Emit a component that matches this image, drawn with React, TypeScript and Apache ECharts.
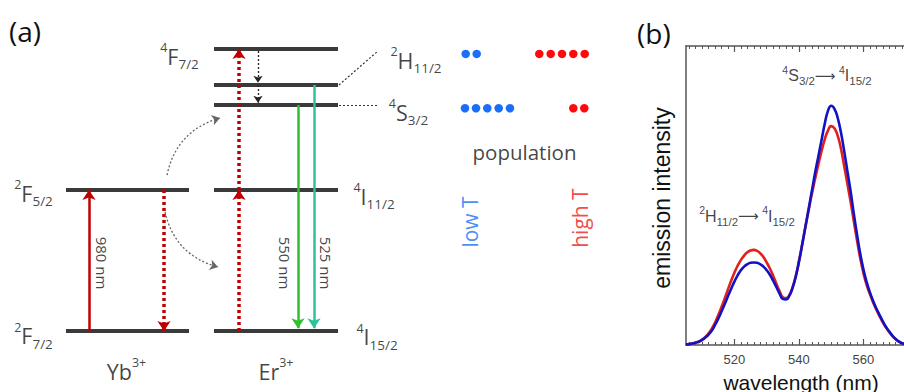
import React, { useEffect, useRef } from "react";
import * as echarts from "echarts";

// ---------- panel (b) data ----------
const wavelengths = [
  505, 506, 507, 508, 509, 510, 511, 512, 513, 514, 515, 516, 517, 518, 519, 520,
  521, 522, 523, 524, 525, 526, 527, 528, 529, 530, 531, 532, 533, 534, 535, 536,
  537, 538, 539, 540, 541, 542, 543, 544, 545, 546, 547, 548, 549, 550, 551, 552,
  553, 554, 555, 556, 557, 558, 559, 560, 561, 562, 563, 564, 565, 566, 567, 568,
  569, 570, 571, 572, 573, 574, 575,
];
const lowT = [
  0.002, 0.003, 0.005, 0.008, 0.011, 0.017, 0.025, 0.035, 0.048, 0.067, 0.088, 0.112, 0.137, 0.163, 0.188, 0.212,
  0.233, 0.25, 0.262, 0.27, 0.275, 0.276, 0.275, 0.27, 0.262, 0.25, 0.235, 0.215, 0.194, 0.172, 0.154, 0.152,
  0.164, 0.19, 0.228, 0.278, 0.335, 0.395, 0.455, 0.515, 0.575, 0.63, 0.685, 0.74, 0.783, 0.8, 0.79, 0.76,
  0.712, 0.65, 0.583, 0.515, 0.44, 0.37, 0.305, 0.252, 0.21, 0.176, 0.147, 0.122, 0.1, 0.079, 0.06, 0.045,
  0.031, 0.02, 0.011, 0.006, 0.003, 0.002, 0.001,
];
const highT = [
  0.002, 0.003, 0.005, 0.008, 0.012, 0.018, 0.027, 0.039, 0.055, 0.075, 0.1, 0.127, 0.156, 0.186, 0.215, 0.242,
  0.265, 0.284, 0.299, 0.31, 0.316, 0.318, 0.315, 0.307, 0.294, 0.276, 0.256, 0.232, 0.205, 0.18, 0.16, 0.157,
  0.166, 0.192, 0.23, 0.28, 0.336, 0.395, 0.45, 0.505, 0.555, 0.603, 0.648, 0.688, 0.717, 0.732, 0.725, 0.7,
  0.658, 0.6, 0.54, 0.48, 0.415, 0.35, 0.29, 0.24, 0.2, 0.17, 0.142, 0.118, 0.096, 0.076, 0.058, 0.043,
  0.03, 0.019, 0.011, 0.006, 0.003, 0.002, 0.001,
];
const majorTicks = [520, 540, 560, 580];
const tickLabels = [520, 540, 560];
const minorTicks = [
  506, 508, 510, 512, 514, 516, 518, 522, 524, 526, 528, 530, 532, 534, 536, 538,
  542, 544, 546, 548, 550, 552, 554, 556, 558, 562, 564, 566, 568, 570, 572, 574, 576, 578,
];

// ---------- panel (a) data (schematic energies) ----------
const ybLevels = [0, 1.0];
const erLevels = [0, 1.0, 1.603, 1.745, 2.0];
const blueDotsRow1 = [465.7, 476.7];
const redDotsRow1 = [539.3, 550.7, 562, 573.3, 584.7];
const blueDotsRow2 = [465, 476, 487.3, 498.7, 510];
const redDotsRow2 = [573.3, 584.3];

const FA = "'Open Sans', 'Noto Sans', sans-serif";
const FB = "'Liberation Sans', Arial, sans-serif";
const TXT = "#111";
const DARKRED = "#c00000";

const YB_X: [number, number] = [66, 189];
const ER_X: [number, number] = [214, 338];

const richA = {
  b: { fontSize: 21.5, fontFamily: FA, color: TXT, lineHeight: 30 },
  sup: { fontSize: 12.5, fontFamily: FA, color: TXT, lineHeight: 13, verticalAlign: "top" },
  sub: { fontSize: 13.5, fontFamily: FA, color: TXT, lineHeight: 14, verticalAlign: "bottom" },
};
const richB = {
  b: { fontSize: 16, fontFamily: FB, color: TXT, lineHeight: 23 },
  sup: { fontSize: 10.5, fontFamily: FB, color: TXT, lineHeight: 10, verticalAlign: "top" },
  sub: { fontSize: 11.5, fontFamily: FB, color: TXT, lineHeight: 11, verticalAlign: "bottom" },
  arr: { fontSize: 14.5, fontFamily: "DejaVu Sans", color: TXT, lineHeight: 23 },
};

function lbl(x: number, y: number, text: string, extra: any = {}) {
  return {
    value: [x, y],
    label: { show: true, position: "inside", formatter: text, ...extra },
  };
}

export default function App() {
  const ref = useRef<HTMLDivElement>(null);
  useEffect(() => {
    if (!ref.current) return;
    const chart = echarts.init(ref.current, undefined, { renderer: "svg" });

    const axisGray = "#555";
    const xCommon = {
      type: "value",
      gridIndex: 0,
      min: 505,
      max: 580,
      splitLine: { show: false },
    };

    const option: any = {
      animation: false,
      backgroundColor: "#fff",
      grid: [
        { left: 686, top: 46, height: 299, width: 242, containLabel: false, outerBoundsMode: "none" },
        { left: 0, top: -7.4, width: 630, height: 394.8, containLabel: false, outerBoundsMode: "none" },
      ],
      xAxis: [
        {
          ...xCommon,
          position: "bottom",
          axisLine: { show: true, lineStyle: { color: axisGray, width: 1.5 } },
          axisTick: { show: true, inside: true, length: 6, customValues: majorTicks, lineStyle: { color: axisGray, width: 1.2 } },
          axisLabel: { show: true, customValues: tickLabels, margin: 8, fontSize: 13, fontFamily: FB, color: "#444" },
        },
        {
          ...xCommon,
          position: "bottom",
          axisLine: { show: false },
          axisTick: { show: true, inside: true, length: 3, customValues: minorTicks, lineStyle: { color: axisGray, width: 1 } },
          axisLabel: { show: false },
        },
        {
          ...xCommon,
          position: "top",
          axisLine: { show: true, lineStyle: { color: axisGray, width: 1.5 } },
          axisTick: { show: true, inside: true, length: 6, customValues: majorTicks, lineStyle: { color: axisGray, width: 1.2 } },
          axisLabel: { show: false },
        },
        {
          ...xCommon,
          position: "top",
          axisLine: { show: false },
          axisTick: { show: true, inside: true, length: 3, customValues: minorTicks, lineStyle: { color: axisGray, width: 1 } },
          axisLabel: { show: false },
        },
        {
          type: "value",
          gridIndex: 1,
          min: 0,
          max: 630,
          show: false,
        },
      ],
      yAxis: [
        {
          type: "value",
          gridIndex: 0,
          min: 0,
          max: 1,
          axisLine: { show: true, lineStyle: { color: axisGray, width: 1.5 } },
          axisTick: { show: false },
          axisLabel: { show: false },
          splitLine: { show: false },
        },
        {
          type: "value",
          gridIndex: 1,
          min: -0.4,
          max: 2.4,
          show: false,
        },
      ],
      graphic: [
        { type: "text", x: 9, y: 31, style: { text: "(a)", font: `28px ${FA}`, fill: TXT, verticalAlign: "middle" } },
        { type: "text", x: 637, y: 33, style: { text: "(b)", font: `28px ${FA}`, fill: TXT, verticalAlign: "middle" } },
        {
          type: "text",
          x: 662,
          y: 198,
          rotation: Math.PI / 2,
          style: { text: "emission intensity", font: `23px ${FB}`, fill: TXT, align: "center", verticalAlign: "middle" },
        },
        {
          type: "text",
          x: 801,
          y: 382,
          style: { text: "wavelength (nm)", font: `21px ${FB}`, fill: TXT, align: "center", verticalAlign: "middle" },
        },
      ],
      series: [
        // ---- panel (b) spectra ----
        {
          name: "high T",
          type: "line",
          xAxisIndex: 0,
          yAxisIndex: 0,
          data: wavelengths.map((w, i) => [w, highT[i]]),
          smooth: true,
          showSymbol: false,
          symbol: "none",
          lineStyle: { color: "#e0201c", width: 2.6 },
          z: 3,
        },
        {
          name: "low T",
          type: "line",
          xAxisIndex: 0,
          yAxisIndex: 0,
          data: wavelengths.map((w, i) => [w, lowT[i]]),
          smooth: true,
          showSymbol: false,
          symbol: "none",
          lineStyle: { color: "#1212c4", width: 2.6 },
          z: 4,
        },
        {
          type: "scatter",
          xAxisIndex: 0,
          yAxisIndex: 0,
          symbolSize: 0,
          clip: false,
          label: { rich: richB },
          data: [
            lbl(548.7, 0.901, "{sup|4}{b|S}{sub|3/2}{arr|⟶} {sup|4}{b|I}{sub|15/2}"),
            lbl(523.9, 0.431, "{sup|2}{b|H}{sub|11/2}{arr|⟶} {sup|4}{b|I}{sub|15/2}"),
          ],
          z: 5,
        },
        // ---- panel (a) energy levels ----
        {
          type: "lines",
          coordinateSystem: "cartesian2d",
          xAxisIndex: 4,
          yAxisIndex: 1,
          symbol: "none",
          lineStyle: { color: "#3a3a3a", width: 4, opacity: 1 },
          data: [
            ...ybLevels.map((e) => ({ coords: [[YB_X[0], e], [YB_X[1], e]] })),
            ...erLevels.map((e) => ({ coords: [[ER_X[0], e], [ER_X[1], e]] })),
          ],
          z: 2,
        },
        // connectors
        {
          type: "lines",
          coordinateSystem: "cartesian2d",
          xAxisIndex: 4,
          yAxisIndex: 1,
          symbol: "none",
          lineStyle: { color: "#333", width: 1.2, type: [2, 2], opacity: 1 },
          data: [
            { coords: [[339, 1.745], [377, 1.98]] },
            { coords: [[339, 1.603], [377, 1.603]] },
          ],
          z: 2,
        },
        // 980 nm pump
        {
          type: "lines",
          coordinateSystem: "cartesian2d",
          xAxisIndex: 4,
          yAxisIndex: 1,
          symbol: ["none", "arrow"],
          symbolSize: 10,
          lineStyle: { color: DARKRED, width: 2.5, opacity: 1 },
          data: [{ coords: [[89, 0], [89, 1.0]] }],
          z: 3,
        },
        // dotted red transfer arrows
        {
          type: "lines",
          coordinateSystem: "cartesian2d",
          xAxisIndex: 4,
          yAxisIndex: 1,
          symbol: ["none", "arrow"],
          symbolSize: 10,
          lineStyle: { color: DARKRED, width: 3.5, type: [3, 3], opacity: 1 },
          data: [
            { coords: [[164, 1.0], [164, 0]] },
            { coords: [[239, 0], [239, 1.0]] },
            { coords: [[239, 1.0], [239, 2.0]] },
          ],
          z: 3,
        },
        // non-radiative relaxation
        {
          type: "lines",
          coordinateSystem: "cartesian2d",
          xAxisIndex: 4,
          yAxisIndex: 1,
          symbol: ["none", "arrow"],
          symbolSize: 7,
          lineStyle: { color: "#222", width: 1.3, type: [2, 2], opacity: 1 },
          data: [
            { coords: [[258, 1.985], [258, 1.76]] },
            { coords: [[258, 1.745], [258, 1.618]] },
          ],
          z: 3,
        },
        // green emissions
        {
          type: "lines",
          coordinateSystem: "cartesian2d",
          xAxisIndex: 4,
          yAxisIndex: 1,
          symbol: ["none", "arrow"],
          symbolSize: 10,
          lineStyle: { width: 2.5, opacity: 1 },
          data: [
            { coords: [[298, 1.603], [298, 0.02]], lineStyle: { color: "#2fbf2f" } },
            { coords: [[314, 1.745], [314, 0.02]], lineStyle: { color: "#2cc39c" } },
          ],
          z: 3,
        },
        // energy transfer curved arrows
        {
          type: "lines",
          coordinateSystem: "cartesian2d",
          xAxisIndex: 4,
          yAxisIndex: 1,
          symbol: ["none", "arrow"],
          symbolSize: 8,
          lineStyle: { color: "#666", width: 1.3, type: [2, 2], opacity: 1 },
          data: [
            { coords: [[167, 1.106], [220, 1.511]], lineStyle: { curveness: 0.3 } },
            { coords: [[165, 0.844], [218, 0.454]], lineStyle: { curveness: -0.3 } },
          ],
          z: 3,
        },
        // population dots
        {
          type: "scatter",
          xAxisIndex: 4,
          yAxisIndex: 1,
          symbol: "circle",
          symbolSize: 8.5,
          itemStyle: { color: "#1a6ef7", opacity: 1 },
          data: [
            ...blueDotsRow1.map((x) => [x, 1.965]),
            ...blueDotsRow2.map((x) => [x, 1.58]),
          ],
          z: 3,
        },
        {
          type: "scatter",
          xAxisIndex: 4,
          yAxisIndex: 1,
          symbol: "circle",
          symbolSize: 8.5,
          itemStyle: { color: "#ff0a0a", opacity: 1 },
          data: [
            ...redDotsRow1.map((x) => [x, 1.965]),
            ...redDotsRow2.map((x) => [x, 1.58]),
          ],
          z: 3,
        },
        // texts of panel (a)
        {
          type: "scatter",
          xAxisIndex: 4,
          yAxisIndex: 1,
          symbolSize: 0,
          clip: false,
          label: { rich: richA },
          data: [
            lbl(179.5, 1.95, "{sup|4}{b|F}{sub|7/2}"),
            lbl(416, 1.92, "{sup|2}{b|H}{sub|11/2}"),
            lbl(408.5, 1.55, "{sup|4}{b|S}{sub|3/2}"),
            lbl(33.5, 0.976, "{sup|2}{b|F}{sub|5/2}"),
            lbl(374, 0.955, "{sup|4}{b|I}{sub|11/2}"),
            lbl(33.5, -0.035, "{sup|2}{b|F}{sub|7/2}"),
            lbl(377, -0.042, "{sup|4}{b|I}{sub|15/2}"),
            lbl(126.5, -0.284, "{b|Yb}{sup|3+}"),
            lbl(276, -0.284, "{b|Er}{sup|3+}"),
            lbl(102, 0.482, "980 nm", { rotate: -90, fontSize: 15, fontFamily: FA, color: TXT }),
            lbl(285, 0.482, "550 nm", { rotate: -90, fontSize: 15, fontFamily: FA, color: TXT }),
            lbl(326, 0.482, "525 nm", { rotate: -90, fontSize: 15, fontFamily: FA, color: TXT }),
            lbl(524.5, 1.27, "population", { fontSize: 20.5, fontFamily: FA, color: TXT }),
            lbl(470, 0.773, "low T", { rotate: 90, fontSize: 21, fontFamily: FA, color: "#1a6ef7" }),
            lbl(580, 0.801, "high T", { rotate: 90, fontSize: 21, fontFamily: FA, color: "#f01818" }),
          ],
          z: 6,
        },
      ],
    };

    chart.setOption(option);
    return () => chart.dispose();
  }, []);

  return (
    <div
      ref={ref}
      style={{ position: "absolute", left: 0, top: 0, width: 904, height: 392, background: "#fff" }}
    />
  );
}
